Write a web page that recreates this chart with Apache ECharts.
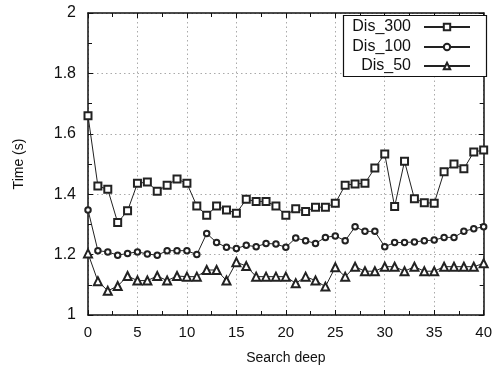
<!DOCTYPE html>
<html><head><meta charset="utf-8">
<script src="https://cdn.jsdelivr.net/npm/echarts@6/dist/echarts.min.js"></script>
<style>html,body{margin:0;padding:0;background:#fff}#c{width:495px;height:374px}</style>
</head><body><div id="c"></div>
<script>
var searchDeep = [0,1,2,3,4,5,6,7,8,9,10,11,12,13,14,15,16,17,18,19,20,21,22,23,24,25,26,27,28,29,30,31,32,33,34,35,36,37,38,39,40];
var dis300 = [1.66,1.427,1.416,1.306,1.345,1.436,1.44,1.41,1.43,1.45,1.436,1.361,1.33,1.361,1.348,1.337,1.383,1.376,1.376,1.361,1.33,1.352,1.343,1.357,1.357,1.37,1.43,1.434,1.436,1.487,1.533,1.359,1.509,1.385,1.372,1.37,1.474,1.5,1.484,1.54,1.546];
var dis100 = [1.348,1.213,1.209,1.198,1.204,1.209,1.202,1.198,1.213,1.213,1.213,1.2,1.27,1.24,1.224,1.22,1.231,1.226,1.237,1.235,1.224,1.255,1.246,1.237,1.257,1.262,1.246,1.292,1.277,1.277,1.226,1.24,1.24,1.242,1.246,1.248,1.257,1.257,1.277,1.286,1.292];
var dis50 = [1.204,1.112,1.08,1.096,1.129,1.114,1.114,1.129,1.114,1.129,1.127,1.127,1.149,1.149,1.114,1.175,1.162,1.127,1.127,1.127,1.127,1.105,1.127,1.114,1.094,1.158,1.127,1.16,1.145,1.145,1.16,1.16,1.145,1.16,1.145,1.145,1.16,1.16,1.16,1.16,1.171];
var seriesNames = ['Dis_300','Dis_100','Dis_50'];
var xTicks = [0,5,10,15,20,25,30,35,40];
var yTicks = [1,1.2,1.4,1.6,1.8,2];

function pairs(v){ return searchDeep.map(function(x,i){ return [x, v[i]]; }); }
var font = 'Liberation Sans, Arial, sans-serif';
var chart = echarts.init(document.getElementById('c'), null, {renderer:'canvas'});
function mkSeries(name, data, symbol, size){
  return {name:name, type:'line', data:pairs(data), symbol:symbol, symbolSize:size,
    showAllSymbol:true, color:'#222', lineStyle:{color:'#222', width:1},
    itemStyle:{color:'#222', borderColor:'#222', borderWidth:1}, emphasis:{disabled:true}, animation:false};
}
function legendItem(name, top){
  return {data:[name], orient:'vertical', right:24, top:top, align:'right', itemGap:0,
    itemWidth:46, itemHeight:8, textStyle:{fontFamily:font, fontSize:16, color:'#111', padding:[0,8,0,0]},
    selectedMode:false, padding:0};
}
var option = {
  backgroundColor:'#fff',
  animation:false,
  grid:{left:88, right:6, top:13, bottom:59, containLabel:false},
  legend:[legendItem('Dis_300',19), legendItem('Dis_100',39), legendItem('Dis_50',58)],
  graphic:[{type:'rect', shape:{x:343.5,y:15.5,width:143,height:61}, style:{fill:'#fff', stroke:'#111', lineWidth:1.2}, z:4}],
  xAxis:[{type:'value', min:0, max:40, interval:5, name:'Search deep', nameLocation:'middle', nameGap:36,
    nameTextStyle:{fontFamily:font, fontSize:14, color:'#111'},
    axisLine:{show:true, onZero:false, lineStyle:{color:'#111', width:1.5}},
    axisTick:{show:true, inside:true, length:5, lineStyle:{color:'#111'}},
    minorTick:{show:true, splitNumber:2, length:4, lineStyle:{color:'#111'}},
    axisLabel:{fontFamily:font, fontSize:15, color:'#111', margin:10, formatter:function(v){return xTicks.indexOf(v)>=0?String(v):'';}},
    splitLine:{show:true, lineStyle:{color:'#aaa', type:[1.5,3], width:1}}},
   {type:'value', position:'top', min:0, max:40, interval:5,
    axisLine:{show:true, onZero:false, lineStyle:{color:'#111', width:1.5}},
    axisTick:{show:true, inside:true, length:5, lineStyle:{color:'#111'}},
    minorTick:{show:true, splitNumber:2, length:4, lineStyle:{color:'#111'}},
    axisLabel:{show:false}, splitLine:{show:false}}],
  yAxis:[{type:'value', min:1, max:2, interval:0.2, name:'Time (s)', nameLocation:'middle', nameGap:62,
    nameTextStyle:{fontFamily:font, fontSize:14, color:'#111'},
    axisLine:{show:true, onZero:false, lineStyle:{color:'#111', width:1.5}},
    axisTick:{show:true, inside:true, length:5, lineStyle:{color:'#111'}},
    minorTick:{show:true, splitNumber:2, length:4, lineStyle:{color:'#111'}},
    axisLabel:{fontFamily:font, fontSize:16, color:'#111', margin:12, formatter:function(v){var s=+v.toFixed(1); return yTicks.indexOf(s)>=0?String(s):'';}},
    splitLine:{show:true, lineStyle:{color:'#aaa', type:[1.5,3], width:1}}},
   {type:'value', position:'right', min:1, max:2, interval:0.2,
    axisLine:{show:true, onZero:false, lineStyle:{color:'#111', width:1.5}},
    axisTick:{show:true, inside:true, length:5, lineStyle:{color:'#111'}},
    minorTick:{show:true, splitNumber:2, length:4, lineStyle:{color:'#111'}},
    axisLabel:{show:false}, splitLine:{show:false}}],
  series:[mkSeries(seriesNames[0], dis300, 'emptyRect', 7),
          mkSeries(seriesNames[1], dis100, 'emptyCircle', 5.5),
          mkSeries(seriesNames[2], dis50, 'emptyTriangle', 8)]
};
chart.setOption(option);
</script></body></html>
